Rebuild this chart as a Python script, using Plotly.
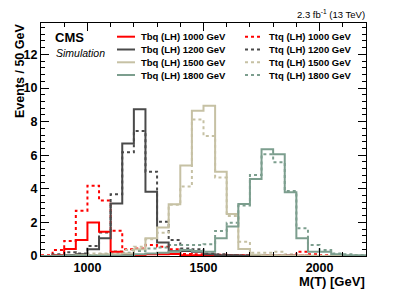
import plotly.graph_objects as go

# ---- data (50 GeV bins, 800-2200 GeV) ----
bin_edges = [800 + 50 * i for i in range(29)]

tbq_1000 = [0.0, 0.05, 0.42, 0.95, 2.0, 1.45, 0.25, 0.1, 0.05, 0.1, 0.1, 0.12, 0.05, 0.05,
            0.02, 0.02, 0.02, 0.01, 0.01, 0.01, 0.01, 0.01, 0.01, 0.0, 0.0, 0.0, 0.0, 0.0]
ttq_1000 = [0.05, 0.35, 0.9, 2.7, 4.18, 3.3, 1.5, 0.4, 0.45, 0.65, 0.55, 0.4, 0.12, 0.1,
            0.08, 0.08, 0.05, 0.05, 0.05, 0.05, 0.05, 0.05, 0.25, 0.1, 0.05, 0.05, 0.03, 0.02]
tbq_1200 = [0.0, 0.02, 0.05, 0.1, 0.4, 1.05, 3.13, 6.7, 8.73, 3.83, 0.8, 0.28, 0.3, 0.25,
            0.1, 0.05, 0.05, 0.02, 0.02, 0.01, 0.01, 0.01, 0.0, 0.0, 0.0, 0.0, 0.0, 0.0]
ttq_1200 = [0.0, 0.1, 0.22, 0.15, 0.6, 1.4, 3.67, 6.17, 7.44, 5.02, 2.04, 0.95, 0.45, 0.4,
            0.15, 0.1, 0.05, 0.05, 0.05, 0.02, 0.02, 0.01, 0.01, 0.0, 0.0, 0.0, 0.0, 0.0]
tbq_1500 = [0.0, 0.0, 0.02, 0.05, 0.05, 0.1, 0.1, 0.15, 0.4, 1.05, 1.7, 3.08, 5.38, 8.65,
            8.95, 5.02, 2.5, 0.42, 0.08, 0.05, 0.05, 0.02, 0.01, 0.01, 0.0, 0.0, 0.0, 0.0]
ttq_1500 = [0.0, 0.02, 0.05, 0.1, 0.15, 0.15, 0.3, 0.35, 0.55, 1.0, 1.39, 3.05, 4.13, 8.13,
            7.14, 4.68, 2.38, 0.85, 0.2, 0.2, 0.25, 0.1, 0.05, 0.02, 0.01, 0.0, 0.0, 0.0]
tbq_1800 = [0.0, 0.02, 0.02, 0.02, 0.02, 0.02, 0.02, 0.05, 0.1, 0.15, 0.2, 0.25, 0.35, 0.3,
            0.26, 1.05, 1.75, 3.1, 4.58, 6.35, 6.05, 3.79, 1.05, 0.26, 0.26, 0.1, 0.05, 0.05]
ttq_1800 = [0.0, 0.05, 0.05, 0.05, 0.05, 0.1, 0.15, 0.2, 0.3, 0.45, 0.5, 0.65, 0.65, 0.65,
            0.7, 1.49, 1.98, 3.0, 4.82, 6.05, 5.58, 3.87, 1.65, 0.65, 0.35, 0.15, 0.1, 0.05]

legend_left = ["Tbq (LH) 1000 GeV", "Tbq (LH) 1200 GeV", "Tbq (LH) 1500 GeV", "Tbq (LH) 1800 GeV"]
legend_right = ["Ttq (LH) 1000 GeV", "Ttq (LH) 1200 GeV", "Ttq (LH) 1500 GeV", "Ttq (LH) 1800 GeV"]

x_ticks = [1000, 1500, 2000]
y_ticks = [0, 2, 4, 6, 8, 10, 12]

# ---- styles ----
colors = ["#ff0000", "#4a4a4a", "#c6c1a4", "#7c9e8e"]
solid_series = [tbq_1000, tbq_1200, tbq_1500, tbq_1800]
dotted_series = [ttq_1000, ttq_1200, ttq_1500, ttq_1800]

W, H = 407, 292
L, R, T, B = 41, 366, 23, 256
FONT = "Liberation Sans, Arial, Helvetica, sans-serif"


def px(xp):
    return (xp - L) / (R - L)


def py(yp):
    return (B - yp) / (B - T)


fig = go.Figure()

xs = bin_edges
for vals, col in zip(dotted_series, colors):
    fig.add_trace(go.Scatter(x=xs, y=list(vals) + [vals[-1]], mode="lines",
                             line=dict(color=col, width=2, dash="dot", shape="hv"),
                             showlegend=False, hoverinfo="skip"))
for vals, col in zip(solid_series, colors):
    fig.add_trace(go.Scatter(x=xs, y=list(vals) + [vals[-1]], mode="lines",
                             line=dict(color=col, width=2, shape="hv"),
                             showlegend=False, hoverinfo="skip"))

shapes = []
annotations = []
row_y = [36.7, 49.5, 62.3, 75.0]
for i in range(4):
    yy = py(row_y[i])
    shapes.append(dict(type="line", xref="paper", yref="paper", x0=px(117), x1=px(135),
                       y0=yy, y1=yy, line=dict(color=colors[i], width=2)))
    shapes.append(dict(type="line", xref="paper", yref="paper", x0=px(245), x1=px(263),
                       y0=yy, y1=yy, line=dict(color=colors[i], width=2, dash="dot")))
    annotations.append(dict(text="<b>%s</b>" % legend_left[i], xref="paper", yref="paper",
                            x=px(139), y=yy, xanchor="left", yanchor="middle", showarrow=False,
                            font=dict(family=FONT, size=9.5, color="black")))
    annotations.append(dict(text="<b>%s</b>" % legend_right[i], xref="paper", yref="paper",
                            x=px(267), y=yy, xanchor="left", yanchor="middle", showarrow=False,
                            font=dict(family=FONT, size=9.5, color="black")))

annotations += [
    dict(text="<b>CMS</b>", xref="paper", yref="paper", x=px(53), y=py(37), xanchor="left",
         yanchor="middle", showarrow=False, font=dict(family=FONT, size=13, color="black")),
    dict(text="<i>Simulation</i>", xref="paper", yref="paper", x=px(54), y=py(53), xanchor="left",
         yanchor="middle", showarrow=False, font=dict(family=FONT, size=10.5, color="black")),
    dict(text="2.3 fb<sup>-1</sup> (13 TeV)", xref="paper", yref="paper", x=px(367), y=py(14),
         xanchor="right", yanchor="middle", showarrow=False,
         font=dict(family=FONT, size=9.5, color="black")),
    dict(text="<b>M(T) [GeV]</b>", xref="paper", yref="paper", x=px(367), y=py(281),
         xanchor="right", yanchor="middle", showarrow=False,
         font=dict(family=FONT, size=13, color="black")),
    dict(text="<b>Events / 50 GeV</b>", xref="paper", yref="paper", x=px(20), y=py(22),
         xanchor="center", yanchor="top", textangle=-90, showarrow=False,
         font=dict(family=FONT, size=12.5, color="black")),
]

fig.update_layout(
    width=W, height=H,
    margin=dict(l=L, r=W - R, t=T, b=H - B, pad=0),
    paper_bgcolor="white", plot_bgcolor="white",
    shapes=shapes, annotations=annotations,
    showlegend=False,
    font=dict(family=FONT, color="black"),
)
fig.update_xaxes(range=[800, 2200], tickvals=x_ticks, ticktext=[str(v) for v in x_ticks],
                 ticks="inside", ticklen=8, tickwidth=1, tickcolor="black",
                 showline=True, linecolor="black", linewidth=1, mirror="ticks",
                 showgrid=False, zeroline=False,
                 minor=dict(dtick=100, ticks="inside", ticklen=4, tickcolor="black", showgrid=False),
                 tickfont=dict(family=FONT, size=12.5, color="black", weight="bold"))
fig.update_yaxes(range=[0, 13.87], tickvals=y_ticks, ticktext=[str(v) for v in y_ticks],
                 ticks="inside", ticklen=8, tickwidth=1, tickcolor="black",
                 showline=True, linecolor="black", linewidth=1, mirror="ticks",
                 showgrid=False, zeroline=False,
                 minor=dict(dtick=0.4, ticks="inside", ticklen=4, tickcolor="black", showgrid=False),
                 tickfont=dict(family=FONT, size=12.5, color="black", weight="bold"))

fig.write_html("out.html", config={"displayModeBar": False},
               post_script="document.body.style.margin='0';document.body.style.padding='0';")
